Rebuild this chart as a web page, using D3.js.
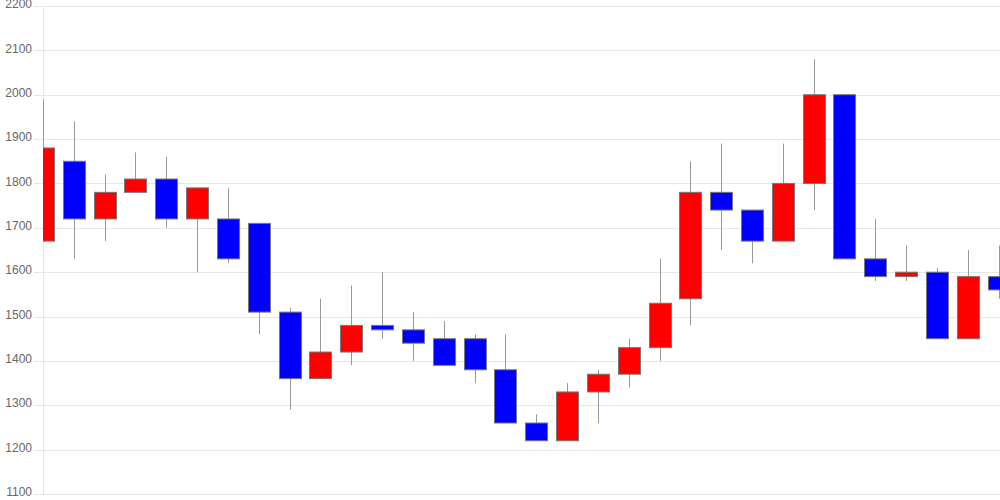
<!DOCTYPE html>
<html>
<head>
  <meta charset="utf-8" />
  <script src="https://d3js.org/d3.v7.min.js"></script>
  <style>
    body { margin: 0; background: #fff; }
    text { font-family: "Liberation Sans", Arial, sans-serif; }
  </style>
</head>
<body>
  <svg id="chart" width="1000" height="500"></svg>
  <script>
    // open / high / low / close per candle
    const opens  = [1670, 1850, 1720, 1780, 1810, 1720, 1720, 1710, 1510, 1360, 1420, 1480, 1470, 1450, 1450, 1380,
                    1260, 1220, 1330, 1370, 1430, 1540, 1780, 1740, 1670, 1800, 2000, 1630, 1590, 1600, 1450, 1590];
    const highs  = [1990, 1940, 1820, 1870, 1860, 1790, 1790, 1710, 1520, 1540, 1570, 1600, 1510, 1490, 1460, 1460,
                    1280, 1350, 1380, 1450, 1630, 1850, 1890, 1740, 1890, 2080, 2000, 1720, 1660, 1610, 1650, 1660];
    const lows   = [1670, 1630, 1670, 1780, 1700, 1600, 1620, 1460, 1290, 1360, 1390, 1450, 1400, 1390, 1350, 1260,
                    1220, 1220, 1260, 1340, 1400, 1480, 1650, 1620, 1670, 1740, 1630, 1580, 1580, 1450, 1450, 1540];
    const closes = [1880, 1720, 1780, 1810, 1720, 1790, 1630, 1510, 1360, 1420, 1480, 1470, 1440, 1390, 1380, 1260,
                    1220, 1330, 1370, 1430, 1530, 1780, 1740, 1670, 1800, 2000, 1630, 1590, 1600, 1450, 1590, 1560];
    const yTicks = [1100, 1200, 1300, 1400, 1500, 1600, 1700, 1800, 1900, 2000, 2100, 2200];

    const svg = d3.select("#chart");
    const margin = { top: 6, right: 0, bottom: 6, left: 43 };
    const width = 1000, height = 500;

    const candles = opens.map((o, i) => ({ i: i, o: o, h: highs[i], l: lows[i], c: closes[i] }));

    const x = d3.scalePoint().domain(candles.map(d => d.i)).range([margin.left, 998.6]);
    const y = d3.scaleLinear().domain([1100, 2200]).range([height - margin.bottom, margin.top]);
    const bodyW = 22;

    // grid + ticks
    const grid = svg.append("g");
    grid.selectAll("line.grid")
      .data(yTicks)
      .join("line")
      .attr("class", "grid")
      .attr("x1", 34).attr("x2", width)
      .attr("y1", d => Math.round(y(d)) + 0.5).attr("y2", d => Math.round(y(d)) + 0.5)
      .attr("stroke", "#e6e6e6").attr("stroke-width", 1);

    grid.append("line")
      .attr("x1", margin.left + 0.5).attr("x2", margin.left + 0.5)
      .attr("y1", margin.top).attr("y2", height - margin.bottom)
      .attr("stroke", "#e6e6e6");

    grid.selectAll("text")
      .data(yTicks)
      .join("text")
      .attr("x", 32)
      .attr("y", d => y(d) - 1)
      .attr("text-anchor", "end")
      .attr("dominant-baseline", "middle")
      .attr("font-size", 12)
      .attr("fill", "#666")
      .text(d => d);

    svg.append("clipPath").attr("id", "plot")
      .append("rect")
      .attr("x", margin.left).attr("y", 0)
      .attr("width", width - margin.left).attr("height", height);

    const plot = svg.append("g").attr("clip-path", "url(#plot)");

    // wicks
    plot.selectAll("line.wick")
      .data(candles)
      .join("line")
      .attr("class", "wick")
      .attr("x1", d => Math.round(x(d.i)) + 0.5).attr("x2", d => Math.round(x(d.i)) + 0.5)
      .attr("y1", d => y(d.h)).attr("y2", d => y(d.l))
      .attr("stroke", "#999").attr("stroke-width", 1);

    // bodies
    plot.selectAll("rect.body")
      .data(candles)
      .join("rect")
      .attr("class", "body")
      .attr("x", d => Math.round(x(d.i)) - bodyW / 2 + 0.5)
      .attr("y", d => y(Math.max(d.o, d.c)))
      .attr("width", bodyW)
      .attr("height", d => Math.max(1, Math.abs(y(d.o) - y(d.c))))
      .attr("fill", d => d.c >= d.o ? "#ff0000" : "#0000ff")
      .attr("stroke", "#777").attr("stroke-width", 1);
  </script>
</body>
</html>
